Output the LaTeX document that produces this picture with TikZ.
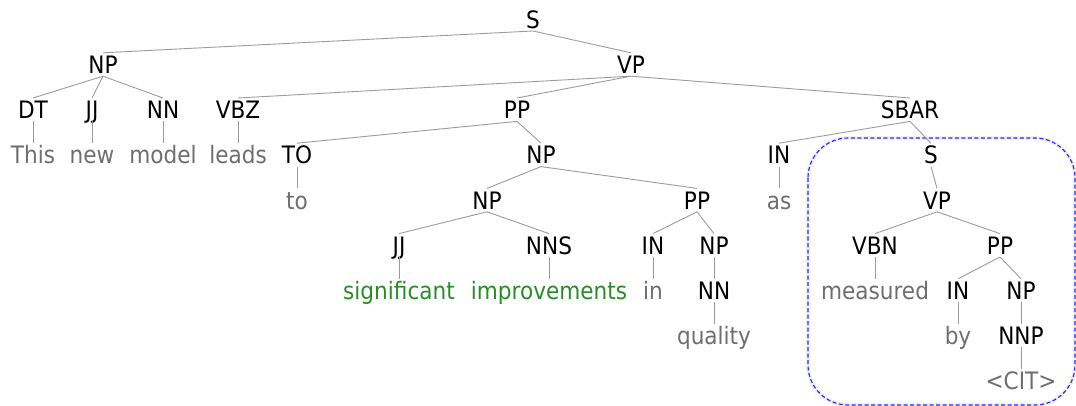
\documentclass[tikz,border=0pt]{standalone}
\usepackage{fontspec}
\setmainfont{DejaVu Sans}[FakeStretch=0.9]
\definecolor{wordgray}{RGB}{110,110,110}
\definecolor{wordgreen}{RGB}{40,140,40}
\definecolor{linegray}{RGB}{155,155,155}
\definecolor{boxblue}{RGB}{40,40,250}
\begin{document}
\begin{tikzpicture}[x=1pt,y=-1pt,
  lab/.style={inner sep=0pt, text height=20.5pt, text depth=2.5pt, anchor=base,
              font=\fontsize{24}{28}\selectfont, text=black},
  word/.style={lab, text=wordgray},
  hl/.style={lab, text=wordgreen},
  edge/.style={draw=linegray, line width=0.9pt}]
\useasboundingbox (0,0) rectangle (1076,406);
% highlight box
\draw[black!6, line width=4pt, rounded corners=40pt] (808,138) rectangle (1075,405);
\draw[boxblue, dash pattern=on 4pt off 2.5pt, line width=1.15pt, rounded corners=40pt] (808,138) rectangle (1075,405);
% row 0
\node[lab] (S) at (533,28.3) {S};
% row 1
\node[lab] (NPa) at (103,73.5) {NP};
\node[lab] (VPa) at (631,73.5) {VP};
% row 2
\node[lab] (DT) at (33,118.7) {DT};
\node[lab] (JJa) at (92,118.7) {JJ};
\node[lab] (NNa) at (163,118.7) {NN};
\node[lab] (VBZ) at (238,118.7) {VBZ};
\node[lab] (PPa) at (517,118.7) {PP};
\node[lab] (SBAR) at (910,118.7) {SBAR};
% row 3
\node[word] (wThis) at (33,163.9) {This};
\node[word] (wnew) at (92,163.9) {new};
\node[word] (wmodel) at (163,163.9) {model};
\node[word] (wleads) at (238,163.9) {leads};
\node[lab] (TO) at (297,163.9) {TO};
\node[lab] (NPb) at (541,163.9) {NP};
\node[lab] (INa) at (779,163.9) {IN};
\node[lab] (Sb) at (931,163.9) {S};
% row 4
\node[word] (wto) at (297,209.1) {to};
\node[lab] (NPc) at (487,209.1) {NP};
\node[lab] (PPb) at (697,209.1) {PP};
\node[word] (was) at (779,209.1) {as};
\node[lab] (VPb) at (937,209.1) {VP};
% row 5
\node[lab] (JJb) at (399,254.3) {JJ};
\node[lab] (NNS) at (549,254.3) {NNS};
\node[lab] (INb) at (653,254.3) {IN};
\node[lab] (NPd) at (714,254.3) {NP};
\node[lab] (VBN) at (875,254.3) {VBN};
\node[lab] (PPc) at (1000,254.3) {PP};
% row 6
\node[hl] (wsig) at (399,299.5) {significant};
\node[hl] (wimp) at (549,299.5) {improvements};
\node[word] (win) at (653,299.5) {in};
\node[lab] (NNb) at (714,299.5) {NN};
\node[word] (wmeas) at (875,299.5) {measured};
\node[lab] (INc) at (958,299.5) {IN};
\node[lab] (NPe) at (1021,299.5) {NP};
% row 7
\node[word] (wqual) at (714,344.7) {quality};
\node[word] (wby) at (958,344.7) {by};
\node[lab] (NNP) at (1021,344.7) {NNP};
% row 8
\node[word] (wcit) at (1021,389.9) {<CIT>};
% edges
\draw[edge] (S.south) -- (NPa.north);
\draw[edge] (S.south) -- (VPa.north);
\draw[edge] (NPa.south) -- (DT.north);
\draw[edge] (NPa.south) -- (JJa.north);
\draw[edge] (NPa.south) -- (NNa.north);
\draw[edge] (DT.south) -- (wThis.north);
\draw[edge] (JJa.south) -- (wnew.north);
\draw[edge] (NNa.south) -- (wmodel.north);
\draw[edge] (VPa.south) -- (VBZ.north);
\draw[edge] (VPa.south) -- (PPa.north);
\draw[edge] (VPa.south) -- (SBAR.north);
\draw[edge] (VBZ.south) -- (wleads.north);
\draw[edge] (PPa.south) -- (TO.north);
\draw[edge] (PPa.south) -- (NPb.north);
\draw[edge] (TO.south) -- (wto.north);
\draw[edge] (NPb.south) -- (NPc.north);
\draw[edge] (NPb.south) -- (PPb.north);
\draw[edge] (NPc.south) -- (JJb.north);
\draw[edge] (NPc.south) -- (NNS.north);
\draw[edge] (JJb.south) -- (wsig.north);
\draw[edge] (NNS.south) -- (wimp.north);
\draw[edge] (PPb.south) -- (INb.north);
\draw[edge] (PPb.south) -- (NPd.north);
\draw[edge] (INb.south) -- (win.north);
\draw[edge] (NPd.south) -- (NNb.north);
\draw[edge] (NNb.south) -- (wqual.north);
\draw[edge] (SBAR.south) -- (INa.north);
\draw[edge] (SBAR.south) -- (Sb.north);
\draw[edge] (INa.south) -- (was.north);
\draw[edge] (Sb.south) -- (VPb.north);
\draw[edge] (VPb.south) -- (VBN.north);
\draw[edge] (VPb.south) -- (PPc.north);
\draw[edge] (VBN.south) -- (wmeas.north);
\draw[edge] (PPc.south) -- (INc.north);
\draw[edge] (PPc.south) -- (NPe.north);
\draw[edge] (INc.south) -- (wby.north);
\draw[edge] (NPe.south) -- (NNP.north);
\draw[edge] (NNP.south) -- (wcit.north);
\end{tikzpicture}
\end{document}
